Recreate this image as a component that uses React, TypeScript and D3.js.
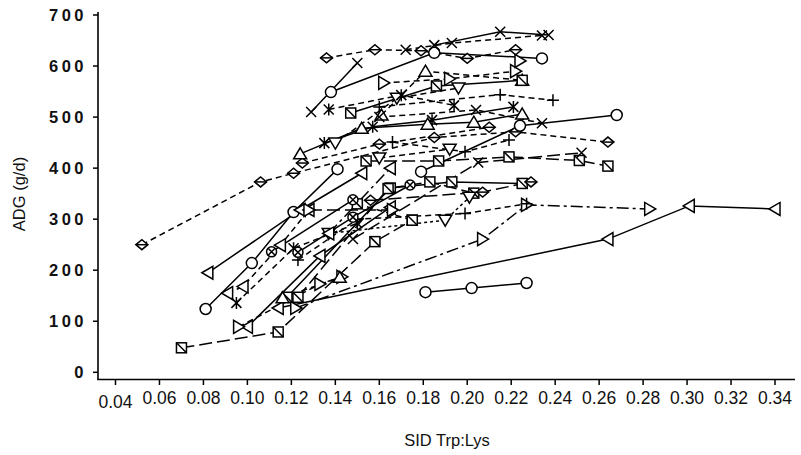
import React from "react";
import * as d3 from "d3";

const xTicks = [0.04, 0.06, 0.08, 0.10, 0.12, 0.14, 0.16, 0.18, 0.20, 0.22, 0.24, 0.26, 0.28, 0.30, 0.32, 0.34];
const yTicks = [0, 100, 200, 300, 400, 500, 600, 700];

// marker: o circle, oc circled cross, d diamond, x cross, p plus, a asterisk,
// tu/td/tl/tr triangles, s square with diagonal
// dash: S solid, D dashed, L long dash, DD dash-dot, SD short dash
const seriesMarkers = [
  "o", "tl", "tr", "s", "d", "o", "tl", "tl", "tr", "tl",
  "a", "s", "s", "td", "p", "o", "oc", "d", "d", "o",
  "x", "x", "x", "tr", "tu", "s", "td", "a", "p", "a",
  "x", "tu", "d", "s", "x", "tu", "td", "p", "s", "tr",
  "tl", "oc"
];
const seriesDash = [
  "S", "S", "DD", "L", "D", "S", "S", "S", "D", "D",
  "D", "S", "L", "SD", "D", "S", "S", "D", "D", "S",
  "D", "S", "S", "D", "D", "S", "D", "D", "D", "S",
  "D", "S", "L", "L", "L", "D", "D", "D", "D", "L",
  "DD", "S"
];
const seriesX = [
  [0.181, 0.202, 0.227],
  [0.114, 0.264, 0.301, 0.340],
  [0.122, 0.207, 0.227, 0.283],
  [0.070, 0.114, 0.158, 0.175],
  [0.052, 0.106, 0.121, 0.185, 0.222, 0.264],
  [0.081, 0.102, 0.121, 0.141],
  [0.082, 0.124, 0.152],
  [0.100, 0.133, 0.165],
  [0.096, 0.133, 0.143],
  [0.091, 0.098, 0.115, 0.128],
  [0.095, 0.121, 0.150],
  [0.118, 0.165, 0.193, 0.225],
  [0.123, 0.164, 0.183, 0.203],
  [0.137, 0.190, 0.201],
  [0.123, 0.150, 0.199, 0.227],
  [0.179, 0.224, 0.268],
  [0.123, 0.148, 0.174],
  [0.125, 0.160, 0.210],
  [0.136, 0.158, 0.179, 0.200, 0.222],
  [0.138, 0.185, 0.234],
  [0.172, 0.193, 0.234],
  [0.185, 0.215, 0.237],
  [0.129, 0.150],
  [0.162, 0.192, 0.222, 0.224],
  [0.161, 0.181, 0.225],
  [0.147, 0.186, 0.225],
  [0.140, 0.168, 0.196],
  [0.137, 0.170, 0.194],
  [0.160, 0.215, 0.239],
  [0.135, 0.157, 0.184, 0.221],
  [0.160, 0.204, 0.234],
  [0.124, 0.152, 0.182, 0.203, 0.225],
  [0.156, 0.207, 0.229],
  [0.154, 0.187, 0.219, 0.251, 0.264],
  [0.148, 0.205, 0.252],
  [0.116, 0.142],
  [0.160, 0.192],
  [0.166, 0.199, 0.219],
  [0.150, 0.175],
  [0.128, 0.166],
  [0.137, 0.165],
  [0.111, 0.148]
];
const seriesY = [
  [157, 165, 175],
  [126, 261, 326, 320],
  [126, 261, 328, 320],
  [48, 79, 256, 298],
  [250, 373, 390, 460, 471, 451],
  [124, 214, 314, 398],
  [195, 318, 390],
  [89, 228, 323],
  [89, 173, 187],
  [155, 168, 249, 318],
  [136, 243, 292],
  [147, 361, 373, 370],
  [147, 360, 373, 351],
  [272, 298, 343],
  [220, 300, 311, 330],
  [393, 483, 504],
  [235, 304, 367],
  [410, 447, 480],
  [616, 632, 630, 615, 632],
  [549, 626, 615],
  [632, 645, 660],
  [641, 667, 661],
  [510, 606],
  [567, 575, 590, 610],
  [504, 590, 572],
  [508, 561, 572],
  [449, 537, 557],
  [515, 543, 523],
  [520, 544, 533],
  [449, 481, 494, 520],
  [500, 514, 488],
  [428, 478, 486, 490, 506],
  [337, 353, 373],
  [414, 414, 422, 415, 404],
  [261, 411, 430],
  [146, 186],
  [420, 437],
  [451, 432, 455],
  [330, 298],
  [318, 318],
  [272, 400],
  [236, 338]
];

const W = 801, H = 455;
const x = d3.scaleLinear().domain([0.04, 0.34]).range([115.5, 775]);
const y = d3.scaleLinear().domain([0, 700]).range([372.3, 15]);

const dashMap: Record<string, string | undefined> = {
  S: undefined,
  D: "6,4",
  L: "13,5",
  DD: "12,4,3,4",
  SD: "3,3",
};

function Marker({ kind, cx, cy }: { kind: string; cx: number; cy: number }) {
  const st = { fill: "#fff", stroke: "#000", strokeWidth: 1.5 };
  const ln = { stroke: "#000", strokeWidth: 1.5, fill: "none" };
  const r = 5.5;
  switch (kind) {
    case "o":
      return <circle cx={cx} cy={cy} r={r} {...st} />;
    case "oc":
      return (
        <g>
          <circle cx={cx} cy={cy} r={5} {...st} />
          <path d={`M${cx - 3.5},${cy - 3.5}L${cx + 3.5},${cy + 3.5}M${cx - 3.5},${cy + 3.5}L${cx + 3.5},${cy - 3.5}`} {...ln} />
        </g>
      );
    case "d":
      return (
        <g>
          <path d={`M${cx - 6},${cy}L${cx},${cy - 5}L${cx + 6},${cy}L${cx},${cy + 5}Z`} {...st} />
          <path d={`M${cx - 6},${cy}L${cx + 6},${cy}`} {...ln} />
        </g>
      );
    case "s":
      return (
        <g>
          <rect x={cx - 5} y={cy - 5} width={10} height={10} {...st} />
          <path d={`M${cx - 5},${cy - 5}L${cx + 5},${cy + 5}`} {...ln} />
        </g>
      );
    case "x":
      return <path d={`M${cx - 5},${cy - 5}L${cx + 5},${cy + 5}M${cx - 5},${cy + 5}L${cx + 5},${cy - 5}`} {...ln} />;
    case "p":
      return <path d={`M${cx - 6},${cy}L${cx + 6},${cy}M${cx},${cy - 6}L${cx},${cy + 6}`} {...ln} />;
    case "a":
      return <path d={`M${cx - 5},${cy - 5}L${cx + 5},${cy + 5}M${cx - 5},${cy + 5}L${cx + 5},${cy - 5}M${cx},${cy - 6}L${cx},${cy + 6}`} {...ln} />;
    case "tu":
      return <path d={`M${cx},${cy - 6}L${cx + 6.5},${cy + 5}L${cx - 6.5},${cy + 5}Z`} {...st} />;
    case "td":
      return <path d={`M${cx},${cy + 6}L${cx + 6.5},${cy - 5}L${cx - 6.5},${cy - 5}Z`} {...st} />;
    case "tr":
      return <path d={`M${cx + 6},${cy}L${cx - 5},${cy - 6.5}L${cx - 5},${cy + 6.5}Z`} {...st} />;
    case "tl":
      return <path d={`M${cx - 6},${cy}L${cx + 5},${cy - 6.5}L${cx + 5},${cy + 6.5}Z`} {...st} />;
    default:
      return null;
  }
}

export default function App() {
  const line = d3.line<[number, number]>().x((d) => x(d[0])).y((d) => y(d[1]));
  const series = seriesX.map((xs, i) => ({
    pts: xs.map((v, j) => [v, seriesY[i][j]] as [number, number]),
    marker: seriesMarkers[i],
    dash: dashMap[seriesDash[i]],
  }));
  const font = "'Liberation Sans', Arial, sans-serif";
  return (
    <svg width={W} height={H} style={{ position: "absolute", left: 0, top: 0, background: "#fff" }}>
      <rect width={W} height={H} fill="#fff" />
      {/* axes */}
      <line x1={98} y1={12} x2={98} y2={379.5} stroke="#000" strokeWidth={1.6} />
      <line x1={97.2} y1={379.5} x2={795} y2={379.5} stroke="#000" strokeWidth={1.6} />
      {yTicks.map((t) => (
        <g key={"y" + t}>
          <line x1={93} x2={98} y1={y(t)} y2={y(t)} stroke="#000" strokeWidth={1.5} />
          <text x={87} y={y(t) + 6} textAnchor="end" fontFamily={font} fontSize={16.5} fontWeight="bold" letterSpacing={3.5} fill="#111">
            {String(t)}
          </text>
        </g>
      ))}
      {xTicks.map((t, i) => (
        <g key={"x" + t}>
          <line x1={x(t)} x2={x(t)} y1={379.5} y2={385} stroke="#000" strokeWidth={1.5} />
          <text x={x(t)} y={i === 0 ? 408 : 404} textAnchor="middle" fontFamily={font} fontSize={17.5} fill="#111">
            {t.toFixed(2)}
          </text>
        </g>
      ))}
      <text x={447} y={446} textAnchor="middle" fontFamily={font} fontSize={16.5} fill="#111">SID Trp:Lys</text>
      <text transform="translate(25,194) rotate(-90)" textAnchor="middle" fontFamily={font} fontSize={16.5} fill="#111">ADG (g/d)</text>
      {/* lines */}
      {series.map((s, i) => (
        <path key={"l" + i} d={line(s.pts) || ""} fill="none" stroke="#000" strokeWidth={1.5} strokeDasharray={s.dash} />
      ))}
      {/* markers */}
      {series.map((s, i) => (
        <g key={"m" + i}>
          {s.pts.map((p, j) => (
            <Marker key={j} kind={s.marker} cx={x(p[0])} cy={y(p[1])} />
          ))}
        </g>
      ))}
    </svg>
  );
}
